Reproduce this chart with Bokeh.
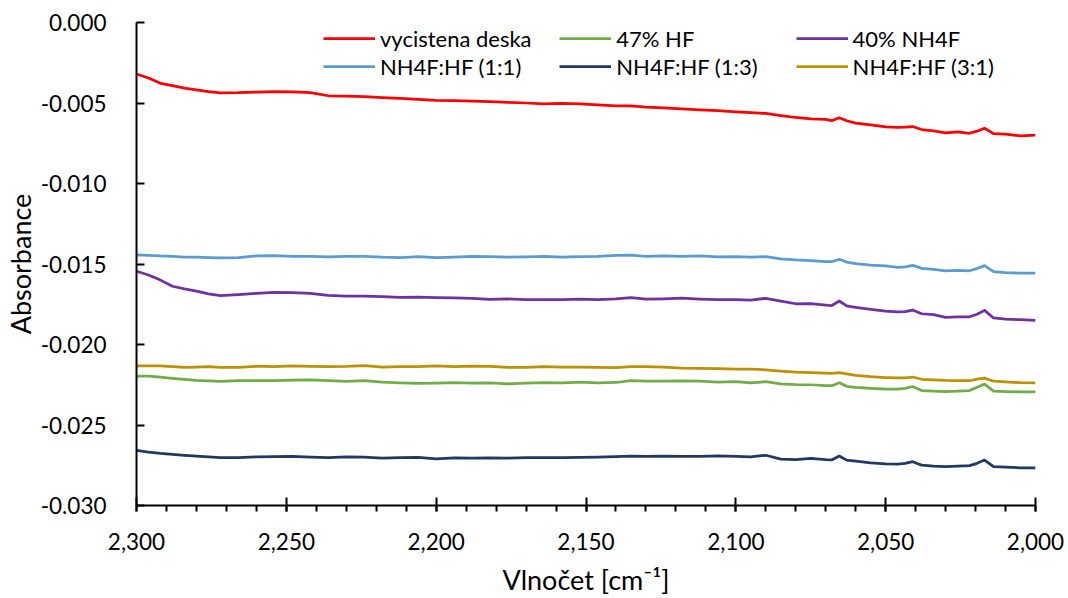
import numpy as np
from bokeh.plotting import figure
from bokeh.models import Legend, LegendItem, FixedTicker, NumeralTickFormatter, Range1d
from bokeh.embed import file_html
from bokeh.resources import INLINE

# Wavenumber grid (cm^-1)
wavenumber = [2300, 2296, 2292, 2288, 2284, 2280, 2276, 2272, 2266, 2260, 2254, 2248, 2242, 2236,
              2230, 2224, 2218, 2212, 2206, 2200, 2194, 2188, 2182, 2176, 2170, 2164, 2158, 2152,
              2146, 2140, 2135, 2130, 2124, 2118, 2112, 2106, 2100, 2095, 2090, 2085, 2080, 2075,
              2070, 2068, 2065.5, 2063, 2060, 2055, 2050, 2046, 2043.5, 2041, 2038, 2034, 2030,
              2026, 2022, 2019.5, 2017, 2014, 2010, 2005, 2000]

# Absorbance values in units of 1e-3
vycistena_deska = [-3.20, -3.45, -3.78, -3.92, -4.08, -4.18, -4.30, -4.37, -4.36, -4.32, -4.30, -4.31, -4.35, -4.55,
                   -4.58, -4.60, -4.66, -4.72, -4.78, -4.83, -4.85, -4.88, -4.92, -4.96, -5.00, -5.06, -5.02, -5.05,
                   -5.12, -5.18, -5.18, -5.25, -5.30, -5.36, -5.43, -5.48, -5.55, -5.60, -5.65, -5.78, -5.90, -5.99,
                   -6.02, -6.10, -5.92, -6.10, -6.25, -6.36, -6.48, -6.52, -6.50, -6.46, -6.65, -6.73, -6.85,
                   -6.80, -6.88, -6.75, -6.57, -6.90, -6.94, -7.04, -7.00]
hf_47 = [-21.96, -21.97, -22.03, -22.10, -22.16, -22.23, -22.26, -22.29, -22.24, -22.25, -22.24, -22.21, -22.20, -22.25,
         -22.29, -22.24, -22.33, -22.38, -22.41, -22.40, -22.37, -22.40, -22.38, -22.44, -22.40, -22.37, -22.39, -22.33,
         -22.38, -22.36, -22.25, -22.27, -22.27, -22.26, -22.28, -22.33, -22.30, -22.38, -22.31, -22.45, -22.49, -22.50,
         -22.55, -22.56, -22.38, -22.60, -22.67, -22.73, -22.77, -22.77, -22.72, -22.61, -22.86, -22.90, -22.92,
         -22.90, -22.86, -22.65, -22.46, -22.90, -22.92, -22.94, -22.94]
nh4f_40 = [-15.45, -15.68, -16.00, -16.38, -16.55, -16.68, -16.85, -16.97, -16.90, -16.82, -16.76, -16.78, -16.82, -16.95,
           -17.00, -16.99, -17.02, -17.08, -17.06, -17.09, -17.10, -17.13, -17.20, -17.17, -17.22, -17.21, -17.21, -17.18,
           -17.22, -17.17, -17.09, -17.18, -17.16, -17.12, -17.18, -17.22, -17.21, -17.24, -17.13, -17.30, -17.47, -17.46,
           -17.55, -17.59, -17.30, -17.60, -17.70, -17.82, -17.92, -17.98, -17.96, -17.86, -18.09, -18.15, -18.32,
           -18.28, -18.28, -18.12, -17.88, -18.35, -18.42, -18.46, -18.50]
nh4f_hf_1_1 = [-14.44, -14.46, -14.50, -14.52, -14.57, -14.58, -14.60, -14.62, -14.60, -14.50, -14.48, -14.52, -14.52, -14.56,
               -14.52, -14.52, -14.58, -14.60, -14.54, -14.61, -14.57, -14.52, -14.54, -14.58, -14.56, -14.52, -14.58, -14.54,
               -14.52, -14.47, -14.45, -14.52, -14.50, -14.52, -14.49, -14.55, -14.54, -14.58, -14.54, -14.68, -14.75, -14.79,
               -14.85, -14.86, -14.71, -14.88, -14.98, -15.07, -15.12, -15.21, -15.18, -15.08, -15.27, -15.34, -15.42,
               -15.40, -15.42, -15.28, -15.10, -15.48, -15.53, -15.57, -15.56]
nh4f_hf_1_3 = [-26.58, -26.68, -26.76, -26.82, -26.88, -26.93, -26.98, -27.02, -27.02, -26.98, -26.97, -26.95, -26.99, -27.03,
               -26.98, -27.00, -27.05, -27.02, -27.01, -27.10, -27.04, -27.06, -27.04, -27.05, -27.03, -27.02, -27.03, -27.01,
               -26.99, -26.96, -26.93, -26.95, -26.93, -26.95, -26.95, -26.92, -26.95, -26.98, -26.88, -27.12, -27.15, -27.07,
               -27.15, -27.17, -26.93, -27.18, -27.24, -27.35, -27.42, -27.43, -27.38, -27.28, -27.49, -27.55, -27.58,
               -27.55, -27.52, -27.38, -27.18, -27.59, -27.62, -27.66, -27.66]
nh4f_hf_3_1 = [-21.32, -21.32, -21.33, -21.38, -21.42, -21.40, -21.38, -21.42, -21.42, -21.35, -21.37, -21.32, -21.36, -21.38,
               -21.36, -21.31, -21.40, -21.38, -21.38, -21.32, -21.38, -21.35, -21.36, -21.42, -21.42, -21.37, -21.40, -21.40,
               -21.42, -21.44, -21.38, -21.38, -21.40, -21.47, -21.48, -21.50, -21.53, -21.53, -21.57, -21.66, -21.72, -21.74,
               -21.78, -21.80, -21.75, -21.82, -21.92, -22.00, -22.05, -22.08, -22.07, -22.02, -22.16, -22.20, -22.23,
               -22.24, -22.25, -22.15, -22.09, -22.28, -22.32, -22.37, -22.38]

series_names = ["vycistena deska", "47% HF", "40% NH4F", "NH4F:HF (1:1)", "NH4F:HF (1:3)", "NH4F:HF (3:1)"]
series_values = [vycistena_deska, hf_47, nh4f_40, nh4f_hf_1_1, nh4f_hf_1_3, nh4f_hf_3_1]
series_colors = ["#FF0000", "#70AD47", "#7030A0", "#5B9BD5", "#203864", "#BF9000"]

x_ticks = [2000, 2050, 2100, 2150, 2200, 2250, 2300]
x_minor = list(range(2000, 2301, 10))
y_ticks = [-0.030, -0.025, -0.020, -0.015, -0.010, -0.005, 0.0]

FONT = "Lato"
TICK_FS = "22.5px"
TITLE_FS = "27px"
LEG_FS = "22px"

p = figure(width=1068, height=598, x_range=Range1d(2300, 2000), y_range=Range1d(-0.030, 0.0),
           output_backend="svg", toolbar_location=None,
           min_border_left=133, min_border_right=33, min_border_top=22, min_border_bottom=93)
p.grid.visible = False
p.outline_line_color = None
p.background_fill_color = "white"
p.border_fill_color = "white"

renderers = []
for name, vals, color in zip(series_names, series_values, series_colors):
    r = p.line(wavenumber, np.array(vals) / 1000.0, line_color=color, line_width=2.75, line_join="round")
    renderers.append(r)

# axes
xa = p.xaxis[0]
xa.ticker = FixedTicker(ticks=x_ticks, minor_ticks=x_minor)
xa.formatter = NumeralTickFormatter(format="0,0")
xa.axis_label = "Vlnočet [cm⁻¹]"
xa.major_tick_in = 8
xa.major_tick_out = 6
xa.minor_tick_in = 0
xa.minor_tick_out = 6
xa.major_label_standoff = 21
xa.axis_label_standoff = 10

ya = p.yaxis[0]
ya.ticker = FixedTicker(ticks=y_ticks)
ya.formatter = NumeralTickFormatter(format="0.000")
ya.axis_label = "Absorbance"
ya.major_tick_in = 8
ya.major_tick_out = 0
ya.minor_tick_line_color = None
ya.major_label_standoff = 30
ya.axis_label_standoff = 1

for ax in (xa, ya):
    ax.axis_line_width = 2
    ax.axis_line_color = "black"
    ax.major_tick_line_width = 2
    ax.major_tick_line_color = "black"
    ax.minor_tick_line_width = 2
    ax.major_label_text_font = FONT
    ax.major_label_text_font_size = TICK_FS
    ax.major_label_text_color = "black"
    ax.axis_label_text_font = FONT
    ax.axis_label_text_font_size = TITLE_FS
    ax.axis_label_text_font_style = "normal"
    ax.axis_label_text_color = "black"
xa.minor_tick_line_color = "black"

# legends: three columns of two entries
columns = [[0, 3], [1, 4], [2, 5]]
for ci, idxs in enumerate(columns):
    items = [LegendItem(label=series_names[i], renderers=[renderers[i]]) for i in idxs]
    lg = Legend(items=items, location=(187 + 236.3 * ci, 425), orientation="vertical",
                padding=0, margin=0, spacing=0, glyph_width=52, glyph_height=20,
                label_standoff=5, label_height=28,
                label_text_font=FONT, label_text_font_size=LEG_FS, label_text_color="black",
                background_fill_alpha=0, border_line_color=None)
    p.add_layout(lg)

open("out.html", "w").write(file_html(p, INLINE))
